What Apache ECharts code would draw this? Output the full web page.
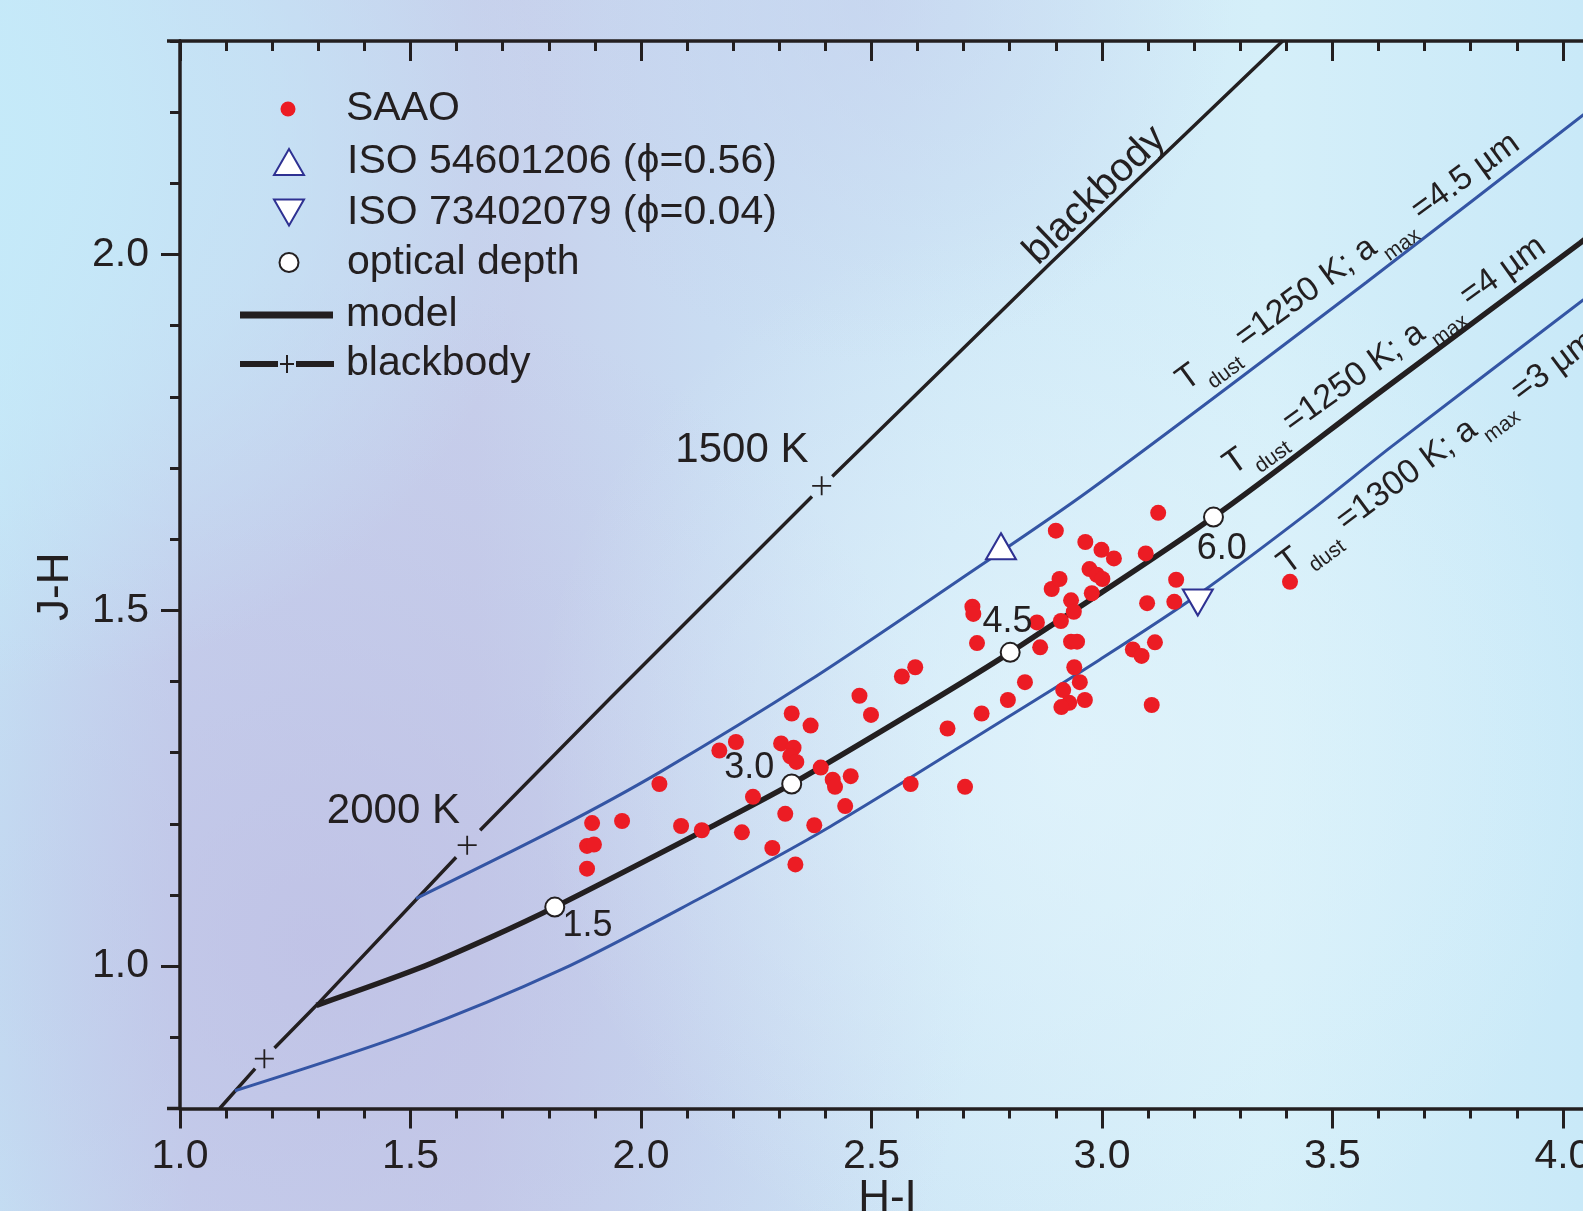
<!DOCTYPE html>
<html>
<head>
<meta charset="utf-8">
<script src="https://cdn.jsdelivr.net/npm/echarts@6/dist/echarts.min.js"></script>
<style>html,body{margin:0;padding:0;overflow:hidden;}#c{width:1583px;height:1211px;}</style>
</head>
<body>
<div id="c"></div>
<script>
// ---------------- data ----------------
const xTicks = [1.0, 1.5, 2.0, 2.5, 3.0, 3.5, 4.0];
const yTicks = [1.0, 1.5, 2.0];

const saaoHI = [2.327,2.368,2.206,2.170,2.304,2.331,2.324,2.337,2.390,2.416,
  2.040,2.243,2.313,1.894,1.959,2.087,2.132,2.219,2.376,1.883,
  1.898,2.285,1.883,2.335,2.455,2.421,2.585,2.703,2.474,2.499,
  2.595,2.566,2.665,2.739,2.796,2.833,2.719,2.721,2.729,2.859,
  2.866,2.911,2.891,2.933,2.939,2.933,2.946,2.940,2.952,2.916,
  2.929,2.912,2.963,3.122,2.900,2.964,2.999,3.026,3.095,2.973,
  2.989,3.001,2.908,2.978,3.161,3.098,3.157,3.115,3.067,3.086,
  3.108,3.408,2.443];
const saaoJH = [1.355,1.338,1.315,1.303,1.313,1.307,1.295,1.287,1.279,1.262,
  1.256,1.238,1.214,1.201,1.204,1.197,1.191,1.188,1.198,1.169,
  1.171,1.166,1.137,1.143,1.267,1.252,1.256,1.252,1.380,1.353,
  1.420,1.407,1.334,1.355,1.374,1.399,1.505,1.495,1.454,1.483,
  1.448,1.485,1.530,1.514,1.498,1.456,1.456,1.420,1.399,1.388,
  1.370,1.364,1.374,1.637,1.612,1.596,1.585,1.573,1.580,1.558,
  1.550,1.544,1.544,1.524,1.543,1.510,1.512,1.455,1.445,1.436,
  1.367,1.540,1.225];

// blackbody curve (null = gap around a temperature mark)
const bbHI = [1.086,1.163,null,1.205,1.296,1.599,null,1.651,1.937,2.371,null,2.415,2.887,3.392];
const bbJH = [0.800,0.856,null,0.885,0.945,1.153,null,1.191,1.379,1.660,null,1.688,1.987,2.300];
const bbMarkHI = [1.183, 1.623, 2.392];
const bbMarkJH = [0.870, 1.170, 1.675];

// model: Tdust=1250 K, amax=4 um
const modelHI = [1.296,1.518,1.672,1.813,2.132,2.327,2.606,2.801,3.242,3.610,4.037,4.100];
const modelJH = [0.945,0.997,1.040,1.083,1.189,1.256,1.363,1.441,1.631,1.810,2.016,2.047];
// Tdust=1250 K, amax=4.5 um
const a45HI = [1.512,1.825,2.042,2.367,2.691,2.974,3.574,4.044,4.100];
const a45JH = [1.095,1.196,1.273,1.402,1.543,1.669,1.961,2.196,2.224];
// Tdust=1300 K, amax=3 um
const a3HI = [1.119,1.496,1.827,2.121,2.410,2.786,2.996,3.213,3.451,3.628,4.044,4.100];
const a3JH = [0.825,0.906,0.995,1.093,1.196,1.346,1.431,1.524,1.639,1.730,1.936,1.964];

// optical depth marks on the model
const odHI = [1.813, 2.327, 2.801, 3.242];
const odJH = [1.083, 1.256, 1.441, 1.631];
const odLabels = ['1.5', '3.0', '4.5', '6.0'];
const odLabelHI = [1.884, 2.235, 2.795, 3.260];
const odLabelJH = [1.056, 1.278, 1.483, 1.586];

// ISO points
const iso1Name = 'ISO 54601206 (\u03d5=0.56)';
const iso2Name = 'ISO 73402079 (\u03d5=0.04)';
const iso1 = [2.781, 1.590];
const iso2 = [3.208, 1.511];

// annotation texts
const annText = ['1500 K', '2000 K', 'blackbody'];
const annHI = [2.219, 1.463, 2.985];
const annJH = [1.724, 1.218, 2.083];
const annRot = [0, 0, 44];
const annSize = [42, 42, 40];

const curveLabelText = [
  'T{s|dust} =1250 K; a{s|max} =4.5 \u00b5m',
  'T{s|dust} =1250 K; a{s|max} =4 \u00b5m',
  'T{s|dust} =1300 K; a{s|max} =3 \u00b5m'
];
const curveLabelHI = [3.170, 3.272, 3.390];
const curveLabelJH = [1.818, 1.700, 1.560];
const curveLabelRot = [36, 35.5, 36.5];

// ---------------- styles ----------------
const INK = '#231f20';
const BLUE = '#3455a4';
const NAVY = '#2e3192';
const RED = '#ec1c24';
const FONT = '"Liberation Sans", Arial, Helvetica, sans-serif';
const plusPath = 'path://M0 8.6 H19 V10.4 H0 Z M8.6 0 H10.4 V19 H8.6 Z';

const zip = (xs, ys) => xs.map((x, i) => (x === null ? ['-', '-'] : [x, ys[i]]));

const chart = echarts.init(document.getElementById('c'), null, {renderer: 'canvas', width: 1583, height: 1211});

const tickStyle = {color: INK, width: 3};
const lineStyleAx = {color: INK, width: 3.5};
const labelFmt = v => Number(v).toFixed(1);

function legendCfg(name, icon, left, top, w, h, padLeft) {
  return {
    show: true, orient: 'horizontal', left: left, top: top, padding: 0, itemGap: 0,
    selectedMode: false, itemWidth: w, itemHeight: h,
    data: [{name: name, icon: icon}],
    textStyle: {fontSize: 41, color: INK, fontFamily: FONT, padding: [0, 0, 0, padLeft || 0]}
  };
}

const option = {
  animation: false,
  backgroundColor: 'transparent',
  grid: {left: 180, top: 41, bottom: 102.5, right: -26, containLabel: false, outerBoundsMode: 'none'},
  legend: [
    legendCfg('SAAO', 'circle', 280.5, 88.5, 106, 15),
    legendCfg(iso1Name, 'path://M15 0 L30 26 L0 26 Z', 273, 141.5, 106, 26),
    legendCfg(iso2Name, 'path://M0 0 L30 0 L15 26 Z', 273, 192, 106, 26),
    legendCfg('optical depth', 'circle', 278.5, 242, 106, 19),
    legendCfg('model', 'path://M0 0 H93 V7 H0 Z', 240, 294.5, 93, 7, 8),
    legendCfg('blackbody', 'path://M0 6 H38 V12 H0 Z M56 6 H94 V12 H56 Z M46 0 H48 V18 H46 Z M40 8 H54 V10 H40 Z', 240, 343.5, 94, 18, 7)
  ],
  xAxis: [
    {type: 'value', position: 'bottom', min: 1.0, max: 4.1, interval: 0.1,
     splitLine: {show: false}, axisLine: {onZero: false, lineStyle: lineStyleAx},
     axisTick: {show: true, length: 10, lineStyle: tickStyle},
     axisLabel: {customValues: xTicks, formatter: labelFmt, fontSize: 41, margin: 28, color: INK, fontFamily: FONT},
     name: 'H-I', nameLocation: 'middle', nameGap: 68, nameMoveOverlap: false,
     nameTextStyle: {fontSize: 44, color: INK, fontFamily: FONT, padding: [0, 14, 0, 0]}},
    {type: 'value', position: 'bottom', min: 1.0, max: 4.1,
     splitLine: {show: false}, axisLine: {show: false, onZero: false},
     axisTick: {show: true, customValues: xTicks, length: 20, lineStyle: tickStyle},
     axisLabel: {show: false}},
    {type: 'value', position: 'top', min: 1.0, max: 4.1, interval: 0.1,
     splitLine: {show: false}, axisLine: {onZero: false, lineStyle: lineStyleAx},
     axisTick: {show: true, inside: true, length: 10, lineStyle: tickStyle},
     axisLabel: {show: false}},
    {type: 'value', position: 'top', min: 1.0, max: 4.1,
     splitLine: {show: false}, axisLine: {show: false, onZero: false},
     axisTick: {show: true, inside: true, customValues: xTicks, length: 20, lineStyle: tickStyle},
     axisLabel: {show: false}}
  ],
  yAxis: [
    {type: 'value', position: 'left', min: 0.8, max: 2.3, interval: 0.1,
     splitLine: {show: false}, axisLine: {onZero: false, lineStyle: lineStyleAx},
     axisTick: {show: true, length: 10, lineStyle: tickStyle},
     axisLabel: {customValues: yTicks, formatter: labelFmt, fontSize: 41, margin: 31, color: INK, fontFamily: FONT},
     name: 'J-H', nameLocation: 'middle', nameRotate: 90, nameGap: 102, nameMoveOverlap: false,
     nameTextStyle: {fontSize: 44, color: INK, fontFamily: FONT, padding: [0, 24, 0, 0]}},
    {type: 'value', position: 'left', min: 0.8, max: 2.3,
     splitLine: {show: false}, axisLine: {show: false, onZero: false},
     axisTick: {show: true, customValues: yTicks, length: 19, lineStyle: tickStyle},
     axisLabel: {show: false}}
  ],
  series: [
    {name: 'blackbody', type: 'line', data: zip(bbHI, bbJH), symbol: 'none', showSymbol: false,
     connectNulls: false, lineStyle: {color: INK, width: 3.4}, itemStyle: {color: INK}, z: 3, silent: true},
    {name: 'blackbody marks', type: 'scatter', data: zip(bbMarkHI, bbMarkJH), symbol: plusPath, symbolSize: 19,
     itemStyle: {color: INK, opacity: 1}, z: 4, silent: true},
    {name: 'amax 4.5', type: 'line', data: zip(a45HI, a45JH), smooth: 0.3, symbol: 'none',
     lineStyle: {color: BLUE, width: 3}, itemStyle: {color: BLUE}, z: 3, silent: true},
    {name: 'amax 3', type: 'line', data: zip(a3HI, a3JH), smooth: 0.3, symbol: 'none',
     lineStyle: {color: BLUE, width: 3}, itemStyle: {color: BLUE}, z: 3, silent: true},
    {name: 'model', type: 'line', data: zip(modelHI, modelJH), smooth: 0.3, symbol: 'none',
     lineStyle: {color: INK, width: 5.5}, itemStyle: {color: INK}, z: 3, silent: true},
    {name: 'SAAO', type: 'scatter', data: zip(saaoHI, saaoJH), symbol: 'circle', symbolSize: 16,
     itemStyle: {color: RED, opacity: 1}, z: 5, silent: true},
    {name: 'optical depth', type: 'scatter', data: zip(odHI, odJH), symbol: 'circle', symbolSize: 19,
     itemStyle: {color: '#ffffff', borderColor: INK, borderWidth: 2, opacity: 1}, z: 6, silent: true},
    {name: iso1Name, type: 'scatter', data: [iso1], symbol: 'triangle', symbolSize: [30, 26],
     itemStyle: {color: '#ffffff', borderColor: NAVY, borderWidth: 2, opacity: 1}, z: 6, silent: true},
    {name: iso2Name, type: 'scatter', data: [iso2], symbol: 'triangle', symbolRotate: 180, symbolSize: [30, 26],
     itemStyle: {color: '#ffffff', borderColor: NAVY, borderWidth: 2, opacity: 1}, z: 6, silent: true}
  ]
};
chart.setOption(option);

// ---------------- background + annotations ----------------
const W = 1583, H = 1211;
const gfx = [
  {type: 'rect', id: 'bg0', silent: true, z: -100, shape: {x: 0, y: 0, width: W, height: H},
   style: {fill: {type: 'linear', x: 0, y: 0, x2: 1, y2: 0, colorStops: [
     {offset: 0, color: '#c6e6f7'}, {offset: 0.12, color: '#c7d3ee'}, {offset: 0.3, color: '#c7cfeb'},
     {offset: 0.45, color: '#c9dcf2'}, {offset: 0.6, color: '#cfe8f7'}, {offset: 0.8, color: '#d5eff9'},
     {offset: 1, color: '#c9e9f8'}]}}},
  {type: 'rect', id: 'bg1', silent: true, z: -99, shape: {x: 0, y: 0, width: W, height: H},
   style: {fill: {type: 'radial', x: 0.2, y: 0.78, r: 0.55, colorStops: [
     {offset: 0, color: 'rgba(188,186,226,0.6)'}, {offset: 1, color: 'rgba(188,186,226,0)'}]}}},
  {type: 'rect', id: 'bg2', silent: true, z: -98, shape: {x: 0, y: 0, width: W, height: H},
   style: {fill: {type: 'radial', x: 0.0, y: 0.12, r: 0.45, colorStops: [
     {offset: 0, color: 'rgba(197,234,249,0.95)'}, {offset: 0.5, color: 'rgba(197,234,249,0.6)'},
     {offset: 1, color: 'rgba(197,234,249,0)'}]}}},
  {type: 'rect', id: 'bg3', silent: true, z: -97, shape: {x: 0, y: 0, width: W, height: H},
   style: {fill: {type: 'radial', x: 0.68, y: 0.62, r: 0.45, colorStops: [
     {offset: 0, color: 'rgba(228,245,252,0.7)'}, {offset: 1, color: 'rgba(228,245,252,0)'}]}}},
  {type: 'rect', id: 'bg4', silent: true, z: -96, shape: {x: 0, y: 0, width: W, height: H},
   style: {fill: {type: 'radial', x: 0.55, y: 0.0, r: 0.3, colorStops: [
     {offset: 0, color: 'rgba(196,206,236,0.6)'}, {offset: 1, color: 'rgba(196,206,236,0)'}]}}}
];

const toPx = (x, y) => chart.convertToPixel({xAxisIndex: 0, yAxisIndex: 0}, [x, y]);

// small overshoot of the frame lines to the left of the y axis (as in the original plot frame)
const cornerTop = toPx(1.0, 2.3), cornerBot = toPx(1.0, 0.8);
[cornerTop, cornerBot].forEach((c, i) => {
  gfx.push({type: 'line', id: 'over' + i, silent: true, z: 5,
    shape: {x1: c[0] - 13, y1: c[1], x2: c[0] + 1, y2: c[1]}, style: {stroke: INK, lineWidth: 3.5}});
});

annText.forEach((t, i) => {
  const p = toPx(annHI[i], annJH[i]);
  gfx.push({type: 'text', id: 'ann' + i, silent: true, z: 20, x: p[0], y: p[1], rotation: annRot[i] * Math.PI / 180,
    style: {text: t, fontSize: annSize[i], fontFamily: FONT, fill: INK, align: 'center', verticalAlign: 'middle'}});
});
odLabels.forEach((t, i) => {
  const p = toPx(odLabelHI[i], odLabelJH[i]);
  gfx.push({type: 'text', id: 'od' + i, silent: true, z: 20, x: p[0], y: p[1],
    style: {text: t, fontSize: 36, fontFamily: FONT, fill: INK, align: 'center', verticalAlign: 'middle'}});
});
curveLabelText.forEach((t, i) => {
  const p = toPx(curveLabelHI[i], curveLabelJH[i]);
  gfx.push({type: 'text', id: 'cl' + i, silent: true, z: 20, x: p[0], y: p[1], rotation: curveLabelRot[i] * Math.PI / 180,
    style: {text: t, fontSize: 34, fontFamily: FONT, fill: INK, align: 'left', verticalAlign: 'middle',
      rich: {s: {fontSize: 21, fontFamily: FONT, fill: INK, padding: [36, 0, 0, 3]}}}});
});

chart.setOption({graphic: gfx});
</script>
</body>
</html>
